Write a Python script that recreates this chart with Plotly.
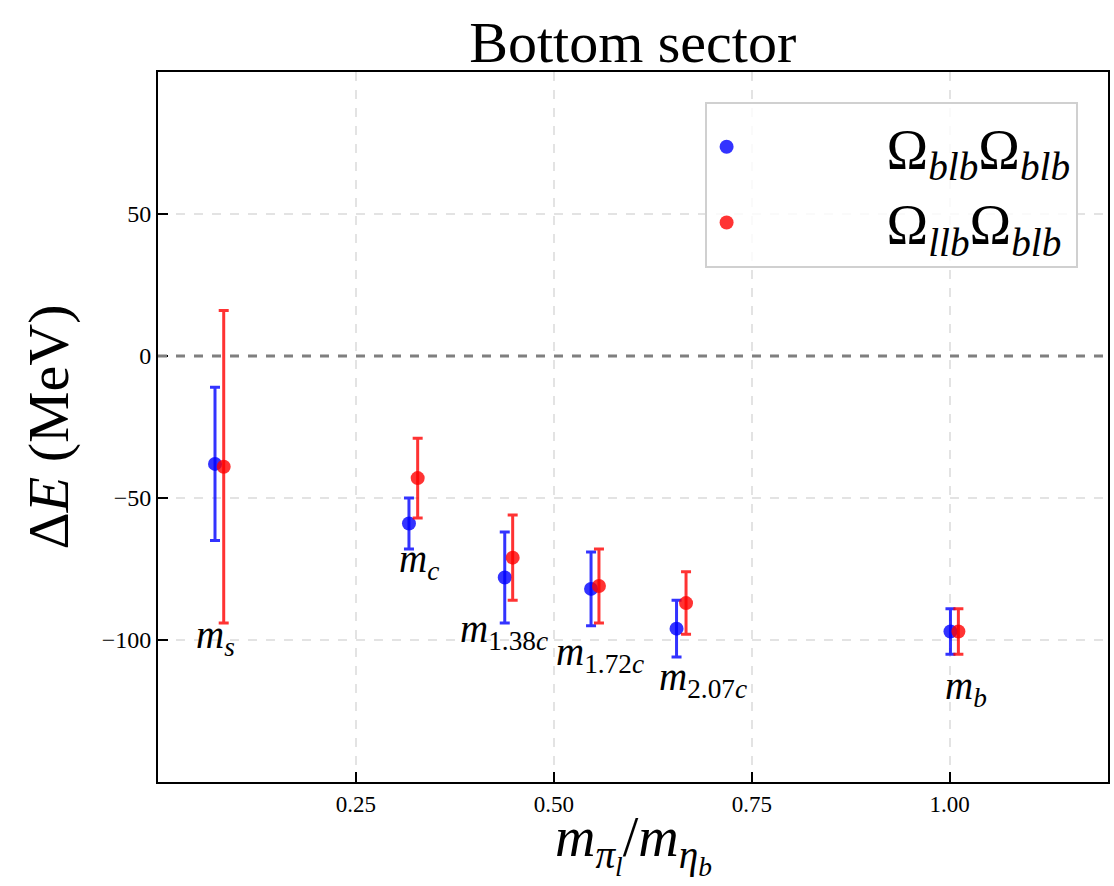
import plotly.graph_objects as go

# Data
x_blue = [0.072, 0.317, 0.438, 0.547, 0.655, 1.001]
y_blue = [-38, -59, -78, -82, -96, -97]
e_blue = [27, 9, 16, 13, 10, 8]

x_red = [0.083, 0.328, 0.448, 0.557, 0.667, 1.011]
y_red = [-39, -43, -71, -81, -87, -97]
e_red = [55, 14, 15, 13, 11, 8]

label_text = ["<i>m</i><sub><i>s</i></sub>", "<i>m</i><sub><i>c</i></sub>",
              "<i>m</i><sub>1.38<i>c</i></sub>", "<i>m</i><sub>1.72<i>c</i></sub>",
              "<i>m</i><sub>2.07<i>c</i></sub>", "<i>m</i><sub><i>b</i></sub>"]
label_x = [0.072, 0.33, 0.437, 0.558, 0.688, 1.021]
label_y = [-99, -72.5, -97, -105, -114, -117]

x_ticks = [0.25, 0.50, 0.75, 1.00]
x_ticklabels = ["0.25", "0.50", "0.75", "1.00"]
y_ticks = [-100, -50, 0, 50]

FONT = "Liberation Serif"
PAD = "\u2002" * 5

fig = go.Figure()
fig.add_trace(go.Scatter(
    x=x_blue, y=y_blue, mode="markers",
    name=PAD + "Ω<sub><i>blb</i></sub>Ω<sub><i>blb</i></sub>",
    marker=dict(color="rgba(0,0,255,0.8)", size=14),
    error_y=dict(type="data", array=e_blue, color="rgba(0,0,255,0.8)", thickness=3, width=5),
))
fig.add_trace(go.Scatter(
    x=x_red, y=y_red, mode="markers",
    name=PAD + "Ω<sub><i>llb</i></sub>Ω<sub><i>blb</i></sub>",
    marker=dict(color="rgba(255,0,0,0.8)", size=14),
    error_y=dict(type="data", array=e_red, color="rgba(255,0,0,0.8)", thickness=3, width=5),
))

fig.add_shape(type="line", xref="paper", x0=0, x1=1, yref="y", y0=0, y1=0,
              line=dict(color="#7f7f7f", width=3, dash="dash"), layer="above")

for t, lx, ly in zip(label_text, label_x, label_y):
    fig.add_annotation(x=lx, y=ly, text=t, showarrow=False,
                       font=dict(family=FONT, size=39, color="black"))

# x-axis title as a paper annotation (keeps clear of the tick labels)
fig.add_annotation(
    xref="paper", yref="paper", x=0.5, y=-0.143, xanchor="center", yanchor="bottom",
    text="<i>m</i><sub><i>π</i><sub><i>l</i></sub></sub>/<i>m</i><sub><i>η</i><sub><i>b</i></sub></sub>",
    showarrow=False, font=dict(family=FONT, size=56, color="black"))

fig.update_layout(
    width=1114, height=886,
    margin=dict(l=158, r=4, t=72, b=104),
    paper_bgcolor="white", plot_bgcolor="white",
    title=dict(text="Bottom sector", x=0.568, xanchor="center", y=0.953, yanchor="middle",
               font=dict(family=FONT, size=58, color="black")),
    font=dict(family=FONT, color="black"),
    showlegend=True,
    legend=dict(x=0.968, y=0.958, xanchor="right", yanchor="top",
                bgcolor="rgba(255,255,255,0.8)", bordercolor="#d0d0d0", borderwidth=2,
                font=dict(family=FONT, size=56), itemsizing="trace"),
)
fig.update_xaxes(
    range=[0, 1.2], tickvals=x_ticks, ticktext=x_ticklabels,
    ticks="inside", ticklen=10, tickwidth=2, tickcolor="black",
    showline=True, linecolor="black", linewidth=2, mirror=True,
    showgrid=True, gridcolor="#e3e3e3", griddash="dash", gridwidth=1.5,
    zeroline=False, tickfont=dict(family=FONT, size=23), automargin=False,
)
fig.update_yaxes(
    range=[-150, 100], tickvals=y_ticks,
    ticks="inside", ticklen=10, tickwidth=2, tickcolor="black",
    showline=True, linecolor="black", linewidth=2, mirror=True,
    showgrid=True, gridcolor="#e3e3e3", griddash="dash", gridwidth=1.5,
    zeroline=False, tickfont=dict(family=FONT, size=24),
    title=dict(text="Δ<i>E</i> (MeV)", font=dict(family=FONT, size=58), standoff=14),
)

fig.write_html("out.html")
